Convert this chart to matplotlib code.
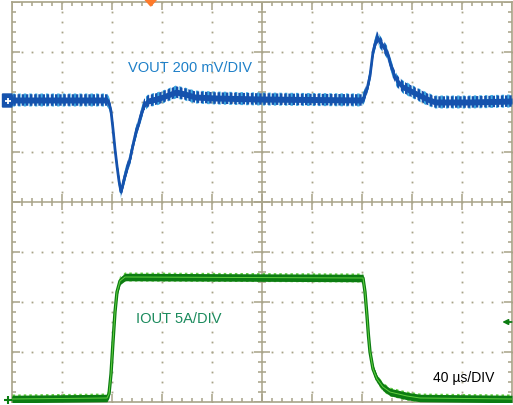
import numpy as np
import matplotlib.pyplot as plt
from matplotlib.collections import LineCollection
from matplotlib.patches import Polygon

# time base: 40 us/div, 10 divisions
us_per_div = 40

# VOUT (ac coupled) in mV vs time in us
vout_t = [0, 76, 77.6, 79.2, 80.8, 82.4, 84, 85.6, 87.2, 88.8,
          91.2, 94.4, 98.4, 102.4, 105.6, 108.8, 118.4, 124.8, 131.2, 138.4,
          146.4, 162.4, 198.4, 280, 281.6, 284, 286.4, 288.8, 292, 294.4,
          296.8, 300, 302.4, 304.8, 308, 312.8, 324, 332, 338.4, 366.4, 400]
vout_mv = [0, 0, -12, -44, -116, -196, -264, -324, -368, -336,
           -288, -236, -144, -76, -20, -4, 8, 20, 32, 24,
           12, 8, 4, 0, 12, 44, 96, 192, 252, 232,
           216, 192, 152, 112, 76, 52, 24, 4, -8, -8, -4]

# IOUT in A vs time in us
iout_t = [0, 76, 77.6, 79.2, 80.8, 82.4, 84, 86.4, 90.4, 280.8,
          282.4, 284, 285.2, 286.4, 288.8, 292, 296.8, 302.4, 316, 326.4, 400]
iout_a = [0, 0.1, 0.5, 2.5, 5.7, 8.7, 10.7, 11.8, 12.2, 12.1,
          10.7, 8.3, 6.3, 4.7, 3.0, 2.0, 1.2, 0.7, 0.3, 0.1, 0]

vout_scale = 200.0   # mV/div
iout_scale = 5.0     # A/div
vout_pos = 2.04      # div offset of the channel marker
iout_pos = -3.94

grid_col = '#a8a388'
blue_dark = '#1552ad'
blue_light = '#3fb0e6'
green_dark = '#0c7c12'
green_light = '#62d040'

plt.rcParams['font.family'] = ['Liberation Sans', 'DejaVu Sans']
plt.rcParams['hatch.linewidth'] = 1.8

fig = plt.figure(figsize=(5.13, 4.06), dpi=100)
ax = fig.add_axes([12 / 513, 3 / 406, 500 / 513, 400 / 406])
ax.set_xlim(0, 10 * us_per_div)
ax.set_ylim(-4, 4)
ax.set_xticks([])
ax.set_yticks([])
for s in ax.spines.values():
    s.set_color(grid_col)
    s.set_linewidth(1.2)

# dotted graticule
dot_x, dot_y = [], []
minor = np.arange(0, 10.01, 0.2)
minor_y = np.arange(-4, 4.01, 0.2)
for i in range(1, 10):
    if i == 5:
        continue
    dot_x += [i * us_per_div] * len(minor_y)
    dot_y += list(minor_y)
for j in range(-3, 4):
    if j == 0:
        continue
    dot_x += list(minor * us_per_div)
    dot_y += [j] * len(minor)
ax.plot(dot_x, dot_y, ls='none', marker='s', ms=1.3, mec='none', mfc=grid_col, zorder=1)

# center cross and tick marks
segs = [[(5 * us_per_div, -4), (5 * us_per_div, 4)], [(0, 0), (10 * us_per_div, 0)]]
tk = 0.08
for k, xv in enumerate(minor):
    x = xv * us_per_div
    big = 2 if k % 5 == 0 else 1
    segs.append([(x, -tk * big), (x, tk * big)])
    segs.append([(x, 4), (x, 4 - tk * big)])
    segs.append([(x, -4), (x, -4 + tk * big)])
for k, yv in enumerate(minor_y):
    big = 2 if k % 5 == 0 else 1
    dx = tk * big * us_per_div
    segs.append([(5 * us_per_div - dx, yv), (5 * us_per_div + dx, yv)])
    segs.append([(0, yv), (dx, yv)])
    segs.append([(10 * us_per_div, yv), (10 * us_per_div - dx, yv)])
ax.add_collection(LineCollection(segs, colors=grid_col, linewidths=1.1, zorder=1))

# traces (ripple look from vertical hatching)
vt = np.array(vout_t)
vy = vout_pos + np.array(vout_mv) / vout_scale
ax.fill_between(vt, vy - 0.13, vy + 0.13, facecolor='none', edgecolor=blue_light,
                hatch='|||', lw=0, zorder=3)
ax.fill_between(vt, vy - 0.115, vy + 0.115, facecolor='none', edgecolor=blue_dark,
                hatch='||||', lw=0, zorder=3)
ax.fill_between(vt, vy - 0.06, vy + 0.06, color=blue_dark, lw=0, zorder=4)
ax.plot(vt, vy, color=blue_dark, lw=2.0, zorder=4)

it = np.array(iout_t)
iy = iout_pos + np.array(iout_a) / iout_scale
ax.fill_between(it, iy - 0.09, iy + 0.09, facecolor='none', edgecolor=green_light,
                hatch='|||', lw=0, zorder=3)
ax.fill_between(it, iy - 0.075, iy + 0.075, color=green_dark, lw=0, zorder=3)
ax.plot(it, iy, color=green_dark, lw=2.4, zorder=4)
ax.plot(it, iy, color=green_light, lw=0.7, zorder=5)

# labels
ax.text(92.8, 2.62, 'VOUT 200 mV/DIV', color='#1f80c8', fontsize=10.5, va='baseline')
ax.text(99.2, -2.4, 'IOUT 5A/DIV', color='#1a8a5c', fontsize=10.5, va='baseline')
ax.text(336.8, -3.58, '40 \u00b5s/DIV', color='black', fontsize=10, va='baseline')

# channel / trigger markers
tag = Polygon([(-7.6, 2.16), (-0.2, 2.16), (1.2, 2.04), (-0.2, 1.9), (-7.6, 1.9)],
              closed=True, color=blue_dark, clip_on=False, zorder=6)
ax.add_patch(tag)
ax.plot([-3.6], [2.03], marker='+', ms=5, mew=1.3, color='white', clip_on=False, zorder=7)
ax.plot([-3.0], [iout_pos - 0.02], marker='+', ms=6, mew=1.5, color=green_dark,
        clip_on=False, zorder=7)
trig = Polygon([(106, 4.06), (116, 4.06), (111, 3.92)], closed=True,
               color='#ff7a2a', clip_on=False, zorder=6)
ax.add_patch(trig)
ax.annotate('', xy=(390, -2.4), xytext=(402, -2.4),
            arrowprops=dict(arrowstyle='-|>', color=green_dark, lw=1.2, mutation_scale=8),
            annotation_clip=False)

fig.savefig('out.png', dpi=100)
